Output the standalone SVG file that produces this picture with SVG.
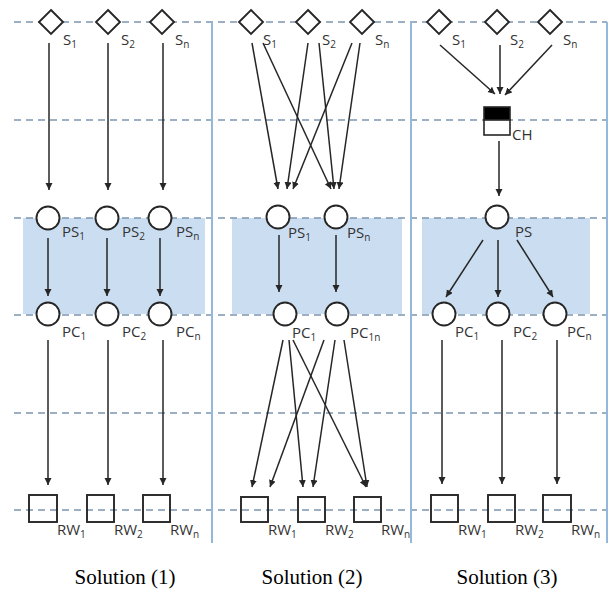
<svg xmlns="http://www.w3.org/2000/svg" width="612" height="590" viewBox="0 0 612 590">
  <defs>
    <marker id="arrow" markerUnits="userSpaceOnUse" markerWidth="8" markerHeight="8" refX="7" refY="3.5" orient="auto">
      <path d="M0,0 L7,3.5 L0,7 z" fill="#262626"/>
    </marker>
    <style>
      .band { fill: #cbdef1; }
      .grid { stroke: #7d95b0; stroke-width: 1.3; stroke-dasharray: 7 5; fill: none; }
      .divider { stroke: #93b8dc; stroke-width: 2; fill: none; }
      .src { fill: #fff; stroke: #262626; stroke-width: 1.9; }
      .proc { fill: #fff; stroke: #262626; stroke-width: 1.9; }
      .sink { fill: none; stroke: #262626; stroke-width: 1.9; }
      .edge { stroke: #262626; stroke-width: 1.5; fill: none; marker-end: url(#arrow); }
      .lbl { font-family: "Open Sans", "Liberation Sans", sans-serif; font-size: 15px; fill: #333; }
      .sub { font-size: 10px; }
      .title { font-family: "Liberation Serif", "Times New Roman", serif; font-size: 21px; fill: #000; text-anchor: middle; }
    </style>
  </defs>

  <rect width="612" height="590" fill="#fff"/>

  <!-- shaded processing bands -->
  <g id="bands">
    <rect class="band" x="23" y="218" width="182" height="96"/>
    <rect class="band" x="232" y="218" width="170" height="96"/>
    <rect class="band" x="422" y="218" width="168" height="96"/>
  </g>

  <!-- horizontal layer guides -->
  <g id="guides">
    <line class="grid" x1="14" y1="22" x2="607" y2="22"/>
    <line class="grid" x1="14" y1="120" x2="607" y2="120"/>
    <line class="grid" x1="14" y1="218" x2="607" y2="218"/>
    <line class="grid" x1="14" y1="315" x2="607" y2="315"/>
    <line class="grid" x1="14" y1="413" x2="607" y2="413"/>
    <line class="grid" x1="14" y1="510" x2="607" y2="510"/>
  </g>

  <!-- connectors -->
  <g id="connectors">
    <!-- solution 1 -->
    <line class="edge" x1="49" y1="43" x2="49" y2="190"/>
    <line class="edge" x1="108" y1="43" x2="108" y2="190"/>
    <line class="edge" x1="163" y1="43" x2="163" y2="190"/>
    <line class="edge" x1="48" y1="238" x2="48" y2="296"/>
    <line class="edge" x1="107" y1="238" x2="107" y2="296"/>
    <line class="edge" x1="160" y1="238" x2="160" y2="296"/>
    <line class="edge" x1="48" y1="340" x2="48" y2="485"/>
    <line class="edge" x1="108" y1="340" x2="108" y2="485"/>
    <line class="edge" x1="163" y1="340" x2="163" y2="485"/>
    <!-- solution 2 -->
    <line class="edge" x1="252" y1="43" x2="278" y2="189"/>
    <line class="edge" x1="263" y1="43" x2="331" y2="189"/>
    <line class="edge" x1="308" y1="43" x2="287" y2="189"/>
    <line class="edge" x1="319" y1="43" x2="334" y2="189"/>
    <line class="edge" x1="352" y1="43" x2="293" y2="189"/>
    <line class="edge" x1="360" y1="43" x2="339" y2="189"/>
    <line class="edge" x1="279" y1="235" x2="279" y2="292"/>
    <line class="edge" x1="336" y1="235" x2="336" y2="292"/>
    <line class="edge" x1="283" y1="340" x2="252" y2="487"/>
    <line class="edge" x1="289" y1="340" x2="303" y2="487"/>
    <line class="edge" x1="293" y1="340" x2="366" y2="487"/>
    <line class="edge" x1="324" y1="340" x2="270" y2="487"/>
    <line class="edge" x1="335" y1="340" x2="313" y2="487"/>
    <line class="edge" x1="344" y1="340" x2="367" y2="487"/>
    <!-- solution 3 -->
    <line class="edge" x1="440" y1="45" x2="495" y2="94"/>
    <line class="edge" x1="500" y1="45" x2="500" y2="94"/>
    <line class="edge" x1="552" y1="45" x2="505" y2="95"/>
    <line class="edge" x1="499" y1="141" x2="499" y2="196"/>
    <line class="edge" x1="483" y1="240" x2="446" y2="297"/>
    <line class="edge" x1="498" y1="240" x2="498" y2="297"/>
    <line class="edge" x1="517" y1="240" x2="553" y2="297"/>
    <line class="edge" x1="442" y1="340" x2="442" y2="484"/>
    <line class="edge" x1="502" y1="340" x2="502" y2="484"/>
    <line class="edge" x1="557" y1="340" x2="557" y2="484"/>
  </g>

  <!-- solution 1 nodes -->
  <g id="s1-src-1"><path class="src" d="M51,10 L63,22 L51,34 L39,22 Z"/><text class="lbl" x="63" y="45">S<tspan class="sub" dy="3">1</tspan></text></g>
  <g id="s1-src-2"><path class="src" d="M108,10 L120,22 L108,34 L96,22 Z"/><text class="lbl" x="121" y="45">S<tspan class="sub" dy="3">2</tspan></text></g>
  <g id="s1-src-n"><path class="src" d="M162,10 L174,22 L162,34 L150,22 Z"/><text class="lbl" x="175" y="45">S<tspan class="sub" dy="3">n</tspan></text></g>
  <g id="s1-ps-1"><circle class="proc" cx="48" cy="218" r="11.5"/><text class="lbl" x="62" y="237">PS<tspan class="sub" dy="3">1</tspan></text></g>
  <g id="s1-ps-2"><circle class="proc" cx="107" cy="218" r="11.5"/><text class="lbl" x="122" y="237">PS<tspan class="sub" dy="3">2</tspan></text></g>
  <g id="s1-ps-n"><circle class="proc" cx="160" cy="218" r="11.5"/><text class="lbl" x="176" y="237">PS<tspan class="sub" dy="3">n</tspan></text></g>
  <g id="s1-pc-1"><circle class="proc" cx="48" cy="314" r="11.5"/><text class="lbl" x="62" y="337">PC<tspan class="sub" dy="3">1</tspan></text></g>
  <g id="s1-pc-2"><circle class="proc" cx="107" cy="314" r="11.5"/><text class="lbl" x="122" y="337">PC<tspan class="sub" dy="3">2</tspan></text></g>
  <g id="s1-pc-n"><circle class="proc" cx="160" cy="314" r="11.5"/><text class="lbl" x="176" y="337">PC<tspan class="sub" dy="3">n</tspan></text></g>
  <g id="s1-rw-1"><rect class="sink" x="29" y="495" width="28" height="27"/><text class="lbl" x="57" y="535">RW<tspan class="sub" dy="3">1</tspan></text></g>
  <g id="s1-rw-2"><rect class="sink" x="87" y="495" width="27" height="27"/><text class="lbl" x="114" y="535">RW<tspan class="sub" dy="3">2</tspan></text></g>
  <g id="s1-rw-n"><rect class="sink" x="143" y="495" width="27" height="27"/><text class="lbl" x="170" y="535">RW<tspan class="sub" dy="3">n</tspan></text></g>

  <!-- solution 2 nodes -->
  <g id="s2-src-1"><path class="src" d="M251,10 L263,22 L251,34 L239,22 Z"/><text class="lbl" x="263" y="45">S<tspan class="sub" dy="3">1</tspan></text></g>
  <g id="s2-src-2"><path class="src" d="M308,10 L320,22 L308,34 L296,22 Z"/><text class="lbl" x="322" y="45">S<tspan class="sub" dy="3">2</tspan></text></g>
  <g id="s2-src-n"><path class="src" d="M362,10 L374,22 L362,34 L350,22 Z"/><text class="lbl" x="375" y="45">S<tspan class="sub" dy="3">n</tspan></text></g>
  <g id="s2-ps-1"><circle class="proc" cx="278" cy="217" r="11.5"/><text class="lbl" x="288" y="238">PS<tspan class="sub" dy="3">1</tspan></text></g>
  <g id="s2-ps-n"><circle class="proc" cx="336" cy="217" r="11.5"/><text class="lbl" x="347" y="238">PS<tspan class="sub" dy="3">n</tspan></text></g>
  <g id="s2-pc-1"><circle class="proc" cx="285" cy="314" r="11.5"/><text class="lbl" x="292" y="338">PC<tspan class="sub" dy="3">1</tspan></text></g>
  <g id="s2-pc-1n"><circle class="proc" cx="337" cy="314" r="11.5"/><text class="lbl" x="350" y="338">PC<tspan class="sub" dy="3">1n</tspan></text></g>
  <g id="s2-rw-1"><rect class="sink" x="241" y="497" width="27" height="25"/><text class="lbl" x="268" y="535">RW<tspan class="sub" dy="3">1</tspan></text></g>
  <g id="s2-rw-2"><rect class="sink" x="298" y="497" width="27" height="25"/><text class="lbl" x="325" y="535">RW<tspan class="sub" dy="3">2</tspan></text></g>
  <g id="s2-rw-n"><rect class="sink" x="354" y="497" width="27" height="25"/><text class="lbl" x="381" y="535">RW<tspan class="sub" dy="3">n</tspan></text></g>

  <!-- solution 3 nodes -->
  <g id="s3-src-1"><path class="src" d="M439,10 L451,22 L439,34 L427,22 Z"/><text class="lbl" x="452" y="45">S<tspan class="sub" dy="3">1</tspan></text></g>
  <g id="s3-src-2"><path class="src" d="M497,10 L509,22 L497,34 L485,22 Z"/><text class="lbl" x="510" y="45">S<tspan class="sub" dy="3">2</tspan></text></g>
  <g id="s3-src-n"><path class="src" d="M550,10 L562,22 L550,34 L538,22 Z"/><text class="lbl" x="563" y="45">S<tspan class="sub" dy="3">n</tspan></text></g>
  <g id="s3-ch">
    <rect x="484" y="107" width="26" height="13" fill="#000" stroke="#262626" stroke-width="1.6"/>
    <rect x="484" y="120" width="26" height="15" fill="#fff" stroke="#262626" stroke-width="1.6"/>
    <text class="lbl" x="512" y="140">CH</text>
  </g>
  <g id="s3-ps"><circle class="proc" cx="497" cy="217" r="11.5"/><text class="lbl" x="515" y="237">PS</text></g>
  <g id="s3-pc-1"><circle class="proc" cx="444" cy="314" r="11.5"/><text class="lbl" x="455" y="337">PC<tspan class="sub" dy="3">1</tspan></text></g>
  <g id="s3-pc-2"><circle class="proc" cx="498" cy="314" r="11.5"/><text class="lbl" x="513" y="337">PC<tspan class="sub" dy="3">2</tspan></text></g>
  <g id="s3-pc-n"><circle class="proc" cx="555" cy="314" r="11.5"/><text class="lbl" x="567" y="337">PC<tspan class="sub" dy="3">n</tspan></text></g>
  <g id="s3-rw-1"><rect class="sink" x="431" y="495" width="27" height="27"/><text class="lbl" x="458" y="535">RW<tspan class="sub" dy="3">1</tspan></text></g>
  <g id="s3-rw-2"><rect class="sink" x="488" y="495" width="27" height="27"/><text class="lbl" x="515" y="535">RW<tspan class="sub" dy="3">2</tspan></text></g>
  <g id="s3-rw-n"><rect class="sink" x="543" y="495" width="28" height="27"/><text class="lbl" x="571" y="535">RW<tspan class="sub" dy="3">n</tspan></text></g>

  <!-- column dividers -->
  <g id="dividers">
    <line class="divider" x1="212" y1="22" x2="212" y2="543"/>
    <line class="divider" x1="411" y1="22" x2="411" y2="543"/>
    <line class="divider" x1="607" y1="22" x2="607" y2="543"/>
  </g>

  <!-- captions -->
  <g id="captions">
    <text class="title" x="125" y="584">Solution (1)</text>
    <text class="title" x="312" y="584">Solution (2)</text>
    <text class="title" x="507" y="584">Solution (3)</text>
  </g>
</svg>
